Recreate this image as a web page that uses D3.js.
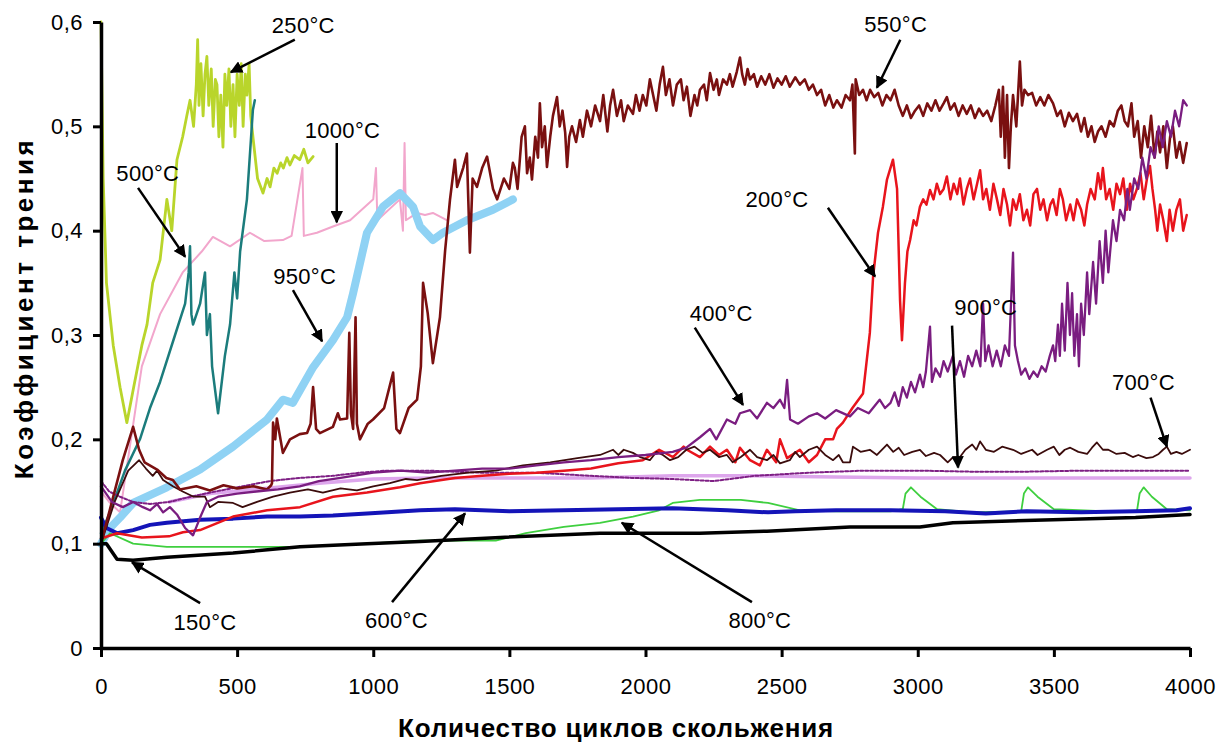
<!DOCTYPE html>
<meta charset="utf-8">
<script src="https://d3js.org/d3.v7.min.js"></script>
<style>
  body { margin: 0; background: #fff; }
  text { font-family: "Liberation Sans", Arial, sans-serif; }
</style>
<div id="chart"></div>
<script>

// ---- data: [cycles, friction coefficient] ----
const s150 = [[0,0.1],[20,0.1],[59,0.085],[118,0.084],[242,0.087],[485,0.091],[731,0.097],[977,0.1],[1172,0.102],[1466,0.106],[1833,0.11],[2200,0.11],[2446,0.112],[2751,0.116],[3008,0.116],[3129,0.12],[3497,0.123],[3800,0.125],[4000,0.128]];

const s200 = [[0,0.105],[59,0.11],[150,0.106],[250,0.107],[301,0.111],[364,0.113],[485,0.126],[610,0.132],[731,0.135],[852,0.145],[977,0.149],[1098,0.154],[1172,0.158],[1300,0.163],[1400,0.165],[1500,0.167],[1600,0.168],[1700,0.17],[1800,0.172],[1900,0.177],[1990,0.18],[2050,0.19],[2101,0.183],[2140,0.193],[2152,0.19],[2200,0.183],[2237,0.193],[2270,0.185],[2299,0.19],[2330,0.178],[2347,0.192],[2384,0.18],[2420,0.175],[2446,0.19],[2480,0.178],[2494,0.2],[2520,0.182],[2567,0.19],[2600,0.178],[2630,0.185],[2660,0.2],[2689,0.2],[2703,0.21],[2725,0.216],[2760,0.23],[2799,0.244],[2824,0.302],[2836,0.356],[2854,0.398],[2872,0.423],[2887,0.449],[2909,0.468],[2924,0.44],[2935,0.333],[2942,0.295],
  [2953,0.35],[2962,0.38],[2972,0.391],[2985,0.41],[2995,0.405],[3008,0.423],[3020,0.43],[3032,0.425],[3045,0.439],[3058,0.43],[3070,0.445],[3082,0.435],[3095,0.44],[3107,0.452],[3120,0.43],[3132,0.445],[3145,0.435],[3155,0.45],[3168,0.425],[3180,0.44],[3192,0.45],[3205,0.43],[3218,0.445],[3229,0.458],[3240,0.43],[3252,0.44],[3265,0.42],[3278,0.445],[3291,0.43],[3303,0.415],[3315,0.44],[3328,0.425],[3339,0.405],[3350,0.43],[3362,0.42],[3375,0.435],[3388,0.41],[3401,0.42],[3413,0.405],[3425,0.435],[3438,0.44],[3450,0.42],[3462,0.43],[3475,0.41],[3487,0.425],[3497,0.43],[3510,0.415],[3522,0.44],[3533,0.43],[3545,0.41],[3560,0.425],[3572,0.41],[3585,0.43],[3600,0.42],[3612,0.405],[3622,0.425],[3635,0.44],[3650,0.43],[3662,0.455],[3672,0.44],[3680,0.46],[3692,0.43],[3705,0.44],[3718,0.42],[3730,0.445],[3743,0.435],[3755,0.45],[3768,0.42],[3780,0.445],[3792,0.43],[3805,0.44],[3818,0.455],[3830,0.43],[3842,0.45],[3853,0.462],[3862,0.44],[3872,0.42],[3880,0.4],[3890,0.425],[3902,0.41],[3915,0.39],[3925,0.42],[3937,0.4],[3950,0.42],[3963,0.43],[3975,0.4],[3988,0.415]];

const s250 = [[0,0.6],[8,0.45],[20,0.35],[45,0.29],[70,0.25],[95,0.216],[120,0.25],[150,0.29],[169,0.31],[190,0.35],[217,0.372],[242,0.43],[260,0.4],[279,0.468],[300,0.49],[315,0.51],[327,0.525],[340,0.5],[350,0.54],[355,0.583],[360,0.52],[367,0.56],[375,0.51],[382,0.55],[389,0.567],[396,0.52],[405,0.555],[412,0.5],[420,0.545],[426,0.54],[433,0.49],[440,0.53],[448,0.48],[455,0.55],[462,0.52],[470,0.555],[477,0.5],[485,0.54],[492,0.49],[500,0.55],[508,0.52],[515,0.56],[522,0.5],[530,0.55],[536,0.53],[544,0.56],[550,0.51],[558,0.49],[575,0.45],[595,0.436],[610,0.45],[621,0.442],[635,0.46],[647,0.455],[660,0.465],[670,0.46],[683,0.47],[694,0.463],[710,0.472],[730,0.468],[745,0.478],[760,0.465],[779,0.471]];

const s400 = [[0,0.155],[40,0.14],[80,0.135],[118,0.14],[154,0.135],[180,0.132],[206,0.138],[228,0.13],[253,0.135],[279,0.128],[309,0.115],[338,0.108],[364,0.125],[389,0.14],[430,0.145],[500,0.148],[570,0.15],[650,0.152],[730,0.155],[800,0.16],[880,0.163],[1000,0.168],[1100,0.17],[1200,0.168],[1300,0.17],[1400,0.172],[1500,0.172],[1600,0.175],[1700,0.178],[1800,0.18],[1900,0.183],[2000,0.185],[2100,0.188],[2150,0.192],[2200,0.202],[2237,0.21],[2260,0.2],[2299,0.219],[2330,0.215],[2347,0.225],[2384,0.228],[2410,0.22],[2446,0.235],[2470,0.23],[2494,0.238],[2510,0.23],[2520,0.257],[2531,0.219],[2560,0.215],[2600,0.222],[2630,0.225],[2660,0.22],[2700,0.228],[2751,0.222],[2780,0.23],[2820,0.225],[2860,0.238],[2880,0.23],
  [2900,0.235],[2915,0.245],[2930,0.232],[2945,0.25],[2960,0.24],[2975,0.255],[2990,0.245],[3008,0.262],[3020,0.25],[3030,0.265],[3045,0.308],[3052,0.255],[3065,0.268],[3082,0.26],[3095,0.275],[3110,0.265],[3129,0.28],[3140,0.262],[3155,0.275],[3170,0.26],[3185,0.28],[3200,0.27],[3215,0.285],[3230,0.27],[3240,0.33],[3248,0.275],[3260,0.29],[3275,0.27],[3290,0.285],[3305,0.27],[3320,0.29],[3335,0.28],[3350,0.379],[3357,0.29],[3368,0.275],[3380,0.262],[3395,0.268],[3410,0.258],[3425,0.265],[3440,0.26],[3455,0.27],[3470,0.265],[3485,0.28],[3497,0.29],[3505,0.275],[3515,0.31],[3522,0.28],[3530,0.33],[3540,0.285],[3550,0.35],[3559,0.3],[3567,0.34],[3575,0.28],[3585,0.32],[3592,0.27],[3600,0.33],[3610,0.3],[3622,0.36],[3630,0.32],[3644,0.37],[3655,0.33],[3668,0.39],[3680,0.35],[3690,0.4],[3700,0.36],[3717,0.41],[3730,0.39],[3743,0.42],[3758,0.41],[3770,0.44],[3779,0.42],[3795,0.45],[3810,0.44],[3825,0.47],[3840,0.45],[3855,0.48],[3870,0.47],[3885,0.5],[3900,0.48],[3915,0.505],[3930,0.49],[3945,0.515],[3960,0.5],[3975,0.525],[3988,0.52]];

const s500 = [[0,0.11],[33,0.13],[88,0.17],[143,0.2],[180,0.23],[217,0.255],[272,0.3],[309,0.33],[322,0.36],[327,0.385],[332,0.32],[338,0.31],[364,0.33],[382,0.36],[389,0.3],[400,0.32],[408,0.27],[430,0.225],[455,0.28],[474,0.31],[490,0.36],[500,0.335],[511,0.38],[536,0.43],[558,0.516],[565,0.525]];

const s550 = [[0,0.1],[40,0.14],[80,0.18],[118,0.212],[140,0.19],[160,0.178],[206,0.171],[240,0.163],[264,0.161],[290,0.152],[350,0.155],[400,0.151],[450,0.156],[500,0.153],[560,0.155],[610,0.152],[625,0.156],[628,0.158],[632,0.216],[640,0.2],[646,0.22],[668,0.187],[694,0.2],[730,0.205],[757,0.206],[770,0.215],[779,0.25],[790,0.21],[804,0.206],[852,0.212],[870,0.225],[878,0.219],[904,0.22],[912,0.302],[918,0.225],[926,0.21],[935,0.317],[940,0.215],[951,0.2],[980,0.215],[999,0.219],[1040,0.23],[1073,0.264],[1085,0.21],[1098,0.206],[1130,0.23],[1161,0.238],[1175,0.27],[1183,0.35],[1200,0.321],[1219,0.273],[1245,0.317],[1264,0.381],[1282,0.43],[1300,0.468],[1308,0.442],[1330,0.46],[1344,0.474],[1355,0.379],[1365,0.45],[1381,0.442],[1400,0.46],[1418,0.471],[1440,0.44],[1455,0.43],[1480,0.45],[1500,0.44],[1513,0.465],
  [1520,0.46],[1530,0.44],[1545,0.49],[1557,0.5],[1565,0.455],[1575,0.47],[1583,0.449],[1595,0.49],[1605,0.47],[1612,0.522],[1620,0.48],[1630,0.5],[1638,0.461],[1650,0.49],[1660,0.51],[1675,0.528],[1685,0.5],[1695,0.515],[1705,0.494],[1712,0.461],[1720,0.49],[1730,0.5],[1745,0.485],[1759,0.506],[1770,0.49],[1785,0.515],[1800,0.5],[1815,0.52],[1833,0.505],[1845,0.53],[1860,0.495],[1870,0.52],[1881,0.535],[1895,0.51],[1910,0.525],[1920,0.505],[1935,0.52],[1954,0.512],[1965,0.53],[1978,0.515],[1990,0.53],[2003,0.52],[2016,0.545],[2028,0.53],[2040,0.515],[2052,0.54],[2064,0.557],[2075,0.53],[2088,0.545],[2101,0.52],[2115,0.54],[2130,0.545],[2140,0.525],[2152,0.538],[2165,0.51],[2180,0.53],[2190,0.52],[2200,0.535],[2215,0.54],[2225,0.525],[2237,0.551],[2250,0.535],[2262,0.545],[2270,0.53],[2285,0.545],[2299,0.54],[2310,0.55],[2320,0.538],[2335,0.552],[2347,0.566],[2355,0.55],[2365,0.54],[2375,0.555],[2384,0.545],[2398,0.55],[2410,0.538],[2425,0.548],[2440,0.54],[2455,0.55],[2470,0.537],[2485,0.546],[2500,0.54],[2515,0.548],[2530,0.538],[2550,0.547],[2567,0.54],[2585,0.545],[2600,0.535],[2615,0.54],[2630,0.53],[2645,0.535],[2660,0.52],[2675,0.53],[2690,0.518],[2703,0.525],[2720,0.518],[2735,0.53],[2751,0.525],[2760,0.54],[2769,0.474],[2772,0.545],[2785,0.53],[2799,0.535],[2812,0.525],[2825,0.535],[2840,0.528],[2855,0.532],[2870,0.52],[2885,0.53],[2900,0.525],[2915,0.535],[2930,0.52],[2945,0.51],[2960,0.52],[2975,0.508],[2990,0.515],[3005,0.52],[3020,0.51],[3035,0.522],[3050,0.515],[3065,0.525],[3080,0.515],[3095,0.522],[3107,0.528],[3120,0.516],[3135,0.522],[3150,0.51],[3165,0.52],[3180,0.512],[3195,0.52],[3210,0.508],[3225,0.517],[3240,0.51],[3255,0.515],[3270,0.505],[3285,0.52],[3298,0.535],[3305,0.49],[3313,0.538],[3320,0.47],[3328,0.53],[3335,0.46],[3342,0.5],[3350,0.53],[3362,0.5],[3375,0.562],[3383,0.52],[3392,0.535],[3405,0.53],[3420,0.532],[3435,0.52],[3450,0.528],[3465,0.52],[3480,0.53],[3497,0.522],[3512,0.51],[3525,0.515],[3540,0.5],[3555,0.513],[3570,0.505],[3585,0.512],[3600,0.495],[3612,0.508],[3625,0.49],[3638,0.5],[3650,0.485],[3662,0.495],[3675,0.5],[3690,0.49],[3705,0.505],[3720,0.5],[3735,0.515],[3748,0.52],[3760,0.505],[3772,0.5],[3785,0.522],[3795,0.49],[3808,0.505],[3820,0.47],[3832,0.5],[3845,0.48],[3857,0.51],[3870,0.47],[3880,0.495],[3890,0.475],[3902,0.5],[3915,0.46],[3927,0.49],[3937,0.5],[3950,0.47],[3962,0.485],[3975,0.465],[3988,0.484]];

const s600 = [[0,0.125],[20,0.115],[60,0.11],[118,0.113],[180,0.118],[242,0.12],[364,0.123],[485,0.124],[610,0.126],[731,0.126],[852,0.127],[977,0.129],[1172,0.132],[1300,0.133],[1500,0.131],[1700,0.132],[1900,0.133],[2100,0.134],[2300,0.132],[2450,0.13],[2550,0.131],[2700,0.132],[2900,0.132],[3100,0.131],[3250,0.129],[3400,0.131],[3600,0.13],[3800,0.131],[3950,0.132],[4000,0.134]];

const s700 = [[0,0.1],[50,0.14],[100,0.17],[140,0.18],[165,0.172],[190,0.165],[206,0.17],[228,0.161],[264,0.155],[300,0.15],[340,0.145],[382,0.145],[400,0.135],[430,0.14],[485,0.139],[520,0.135],[573,0.14],[632,0.145],[694,0.149],[760,0.152],[815,0.149],[880,0.153],[940,0.151],[1000,0.155],[1061,0.158],[1120,0.162],[1161,0.161],[1250,0.165],[1350,0.168],[1450,0.17],[1550,0.175],[1650,0.178],[1750,0.182],[1833,0.185],
  [1881,0.19],[1900,0.185],[1920,0.19],[1954,0.187],[1980,0.183],[2016,0.18],[2040,0.188],[2064,0.185],[2090,0.18],[2120,0.183],[2150,0.19],[2180,0.193],[2210,0.187],[2237,0.19],[2270,0.183],[2299,0.185],[2320,0.178],[2350,0.183],[2384,0.19],[2410,0.183],[2446,0.18],[2470,0.185],[2494,0.177],[2530,0.18],[2550,0.188],[2567,0.183],[2600,0.19],[2630,0.193],[2660,0.185],[2689,0.18],[2710,0.185],[2725,0.178],[2751,0.178],[2762,0.193],[2790,0.188],[2824,0.19],[2850,0.185],[2887,0.195],[2910,0.188],[2930,0.192],[2950,0.185],[2980,0.188],[3008,0.19],[3030,0.184],[3060,0.187],[3082,0.185],[3110,0.178],[3130,0.183],[3155,0.183],[3175,0.19],[3200,0.195],[3215,0.19],[3229,0.198],[3250,0.19],[3280,0.188],[3310,0.193],[3350,0.19],[3380,0.186],[3420,0.19],[3440,0.185],[3475,0.19],[3500,0.193],[3520,0.185],[3540,0.19],[3560,0.192],[3590,0.188],[3622,0.186],[3640,0.192],[3658,0.197],[3680,0.19],[3700,0.19],[3730,0.186],[3760,0.187],[3790,0.183],[3810,0.185],[3840,0.182],[3864,0.183],[3885,0.186],[3901,0.19],[3915,0.193],[3930,0.186],[3950,0.188],[3970,0.186],[4000,0.19]];

const s800 = [[0,0.1],[33,0.11],[118,0.1],[242,0.097],[485,0.097],[731,0.097],[977,0.1],[1172,0.103],[1350,0.103],[1450,0.103],[1560,0.11],[1700,0.116],[1833,0.12],[1954,0.126],[2050,0.132],[2100,0.139],[2200,0.142],[2350,0.142],[2450,0.139],[2567,0.132],[2700,0.131],[2900,0.131],[2945,0.133],[2955,0.148],[2975,0.154],[3010,0.145],[3071,0.133],[3200,0.13],[3380,0.131],[3390,0.148],[3405,0.154],[3440,0.145],[3500,0.133],[3700,0.131],[3805,0.131],[3815,0.148],[3830,0.154],[3860,0.145],[3915,0.133],[4000,0.132]];

const s900 = [[0,0.16],[30,0.15],[70,0.145],[118,0.14],[180,0.138],[250,0.14],[330,0.145],[420,0.15],[520,0.155],[620,0.16],[730,0.163],[850,0.165],[950,0.168],[1050,0.17],[1200,0.17],[1400,0.168],[1600,0.168],[1800,0.165],[1950,0.163],[2100,0.162],[2250,0.16],[2400,0.165],[2600,0.168],[2800,0.17],[3000,0.17],[3200,0.169],[3400,0.169],[3600,0.17],[3800,0.17],[4000,0.17]];
const s900b = [[250,0.14],[400,0.148],[600,0.153],[800,0.158],[1000,0.162],[1200,0.163],[1500,0.163],[1800,0.163],[2100,0.165],[2400,0.165],[2700,0.164],[3000,0.163],[3300,0.163],[3600,0.163],[4000,0.163]];

const s950 = [[0,0.1],[33,0.115],[70,0.125],[118,0.139],[242,0.154],[364,0.171],[485,0.193],[610,0.219],[668,0.238],[705,0.235],[779,0.269],[852,0.295],[904,0.317],[926,0.34],[977,0.398],[1036,0.423],[1098,0.436],[1146,0.423],[1172,0.404],[1219,0.391],[1256,0.398],[1344,0.41],[1440,0.42],[1513,0.43]];

const s1000 = [[0,0.15],[30,0.14],[70,0.13],[110,0.2],[150,0.27],[217,0.32],[300,0.36],[370,0.38],[411,0.394],[474,0.385],[547,0.398],[600,0.39],[668,0.391],[700,0.395],[740,0.46],[745,0.395],[793,0.398],[852,0.404],[915,0.41],[1000,0.43],[1010,0.46],[1015,0.41],[1098,0.43],[1109,0.4],[1115,0.484],[1120,0.41],[1161,0.417],[1190,0.415],[1219,0.417],[1256,0.412],[1270,0.41]];

// labels: text, anchor position [cycles, value], arrow from -> to
const labelText = ["250°C","1000°C","500°C","950°C","550°C","200°C","400°C","900°C","700°C","150°C","600°C","800°C"];
const labelPos  = [[743,0.589],[887,0.489],[172,0.448],[748,0.349],[2919,0.59],[2483,0.423],[2278,0.313],[3250,0.319],[3829,0.247],[382,0.017],[1085,0.019],[2420,0.019]];
const arrowFrom = [[712,0.583],[866,0.484],[136,0.441],[705,0.343],[2936,0.583],[2670,0.422],[2181,0.307],[3126,0.309],[3855,0.24],[364,0.043],[1069,0.044],[2391,0.044]];
const arrowTo   = [[477,0.552],[866,0.408],[309,0.375],[812,0.294],[2850,0.537],[2843,0.356],[2358,0.233],[3148,0.173],[3915,0.193],[114,0.082],[1337,0.129],[1913,0.12]];

const xTicks = [0,500,1000,1500,2000,2500,3000,3500,4000];
const yTicks = [0,0.1,0.2,0.3,0.4,0.5,0.6];
const yTickLabels = ["0","0,1","0,2","0,3","0,4","0,5","0,6"];

// ---- layout ----
const W = 1232, H = 742;
const margin = {top: 22, right: 42, bottom: 94, left: 101},
    width = W - margin.left - margin.right,
    height = H - margin.top - margin.bottom;

const svg = d3.select("#chart").append("svg")
    .attr("width", W).attr("height", H);
const g = svg.append("g")
    .attr("transform", `translate(${margin.left},${margin.top})`);

const x = d3.scaleLinear().domain([0, 4000]).range([0, width]);
const y = d3.scaleLinear().domain([0, 0.6]).range([height, 0]);

const line = d3.line().x(d => x(d[0])).y(d => y(d[1]));

// series drawn bottom to top
const series = [
  {d: s900b, color: "#dda6ec", w: 3.5},
  {d: s1000, color: "#f2a6cc", w: 2},
  {d: s950,  color: "#8fd2f4", w: 8},
  {d: s250,  color: "#b9d52b", w: 2.8},
  {d: s500,  color: "#1b7c7c", w: 2.5},
  {d: s900,  color: "#7e1f84", w: 2, dash: "3,2"},
  {d: s800,  color: "#3fcf3f", w: 1.8},
  {d: s600,  color: "#1414b8", w: 4},
  {d: s150,  color: "#000000", w: 3.5},
  {d: s200,  color: "#e8141c", w: 2.5},
  {d: s700,  color: "#3b0c0c", w: 1.8},
  {d: s550,  color: "#7a1010", w: 2.6},
  {d: s400,  color: "#7a1d80", w: 2.3}
];

series.forEach(s => {
  g.append("path")
    .datum(s.d)
    .attr("d", line)
    .attr("fill", "none")
    .attr("stroke", s.color)
    .attr("stroke-width", s.w)
    .attr("stroke-linejoin", "round")
    .attr("stroke-linecap", "round")
    .attr("stroke-dasharray", s.dash || null);
});

// axes
const yAxis = g.append("g")
  .call(d3.axisLeft(y).tickValues(yTicks)
    .tickFormat((d, i) => yTickLabels[i])
    .tickSize(8).tickSizeOuter(0).tickPadding(10));
const xAxis = g.append("g")
  .attr("transform", `translate(0,${height})`)
  .call(d3.axisBottom(x).tickValues(xTicks)
    .tickFormat(d3.format("d"))
    .tickSize(9).tickSizeOuter(0).tickPadding(21));

[xAxis, yAxis].forEach(a => {
  a.select(".domain").attr("stroke", "#000").attr("stroke-width", 3.5);
  a.selectAll(".tick line").attr("stroke", "#000").attr("stroke-width", 3);
  a.selectAll(".tick text")
    .attr("fill", "#000")
    .style("font-size", "22px")
    .style("letter-spacing", "0.5px")
    .style("font-family", "'Liberation Sans', Arial, sans-serif");
});

// arrowhead
svg.append("defs").append("marker")
    .attr("id", "head")
    .attr("viewBox", "0 0 10 10")
    .attr("refX", 9).attr("refY", 5)
    .attr("markerWidth", 5).attr("markerHeight", 5)
    .attr("markerUnits", "strokeWidth")
    .attr("orient", "auto")
  .append("path")
    .attr("d", "M0,0L10,5L0,10z")
    .attr("fill", "#000");

arrowFrom.forEach((f, i) => {
  g.append("line")
    .attr("x1", x(f[0])).attr("y1", y(f[1]))
    .attr("x2", x(arrowTo[i][0])).attr("y2", y(arrowTo[i][1]))
    .attr("stroke", "#000")
    .attr("stroke-width", 2.5)
    .attr("marker-end", "url(#head)");
});

g.selectAll(".lbl")
  .data(labelText)
  .join("text")
    .attr("class", "lbl")
    .attr("x", (d, i) => x(labelPos[i][0]))
    .attr("y", (d, i) => y(labelPos[i][1]))
    .attr("text-anchor", "middle")
    .style("font-size", "22px")
    .style("letter-spacing", "0.3px")
    .text(d => d);

// axis titles
svg.append("text")
    .attr("x", 616)
    .attr("y", 737)
    .attr("text-anchor", "middle")
    .style("font-size", "26px")
    .style("font-weight", "bold")
    .style("letter-spacing", "0.8px")
    .text("Количество циклов скольжения");

svg.append("text")
    .attr("transform", "translate(33,308) rotate(-90)")
    .attr("text-anchor", "middle")
    .style("font-size", "26px")
    .style("font-weight", "bold")
    .style("letter-spacing", "3.5px")
    .text("Коэффициент трения");

</script>
